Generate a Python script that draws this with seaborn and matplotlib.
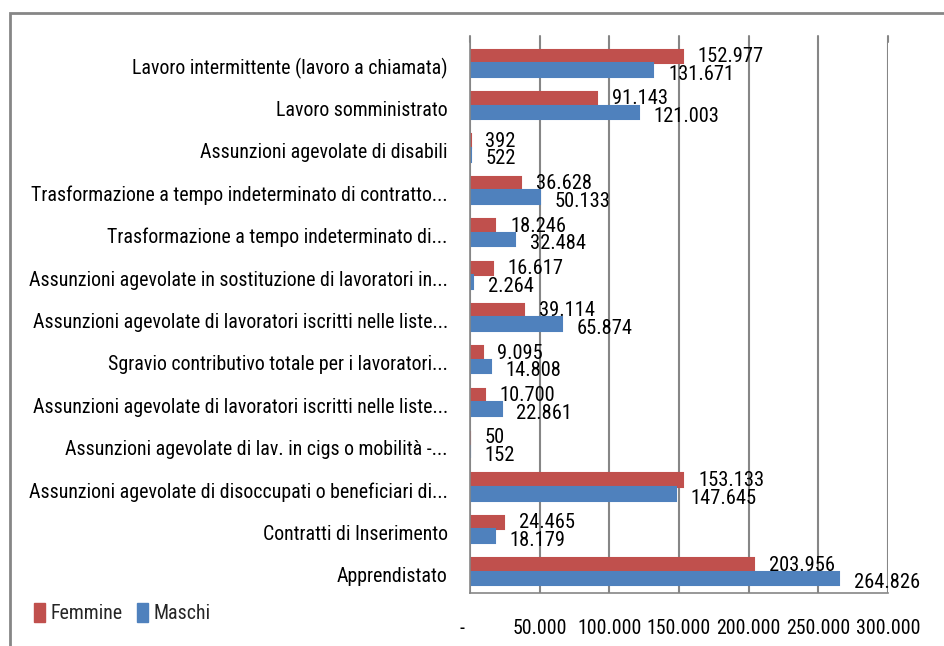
import matplotlib
matplotlib.use("Agg")
import matplotlib.pyplot as plt
from matplotlib import font_manager
from matplotlib.patches import Rectangle
from matplotlib.lines import Line2D
from matplotlib.transforms import ScaledTranslation, blended_transform_factory
import seaborn as sns
import pandas as pd

categories = [
    "Lavoro intermittente (lavoro a chiamata)",
    "Lavoro somministrato",
    "Assunzioni agevolate di disabili",
    "Trasformazione a tempo indeterminato di contratto...",
    "Trasformazione a tempo indeterminato di...",
    "Assunzioni agevolate in sostituzione di lavoratori in...",
    "Assunzioni agevolate di lavoratori iscritti nelle liste...",
    "Sgravio contributivo totale per i lavoratori...",
    "Assunzioni agevolate di lavoratori iscritti nelle liste...",
    "Assunzioni agevolate di lav. in cigs o mobilità -...",
    "Assunzioni agevolate di disoccupati o beneficiari di...",
    "Contratti di Inserimento",
    "Apprendistato",
]
femmine = [152977, 91143, 392, 36628, 18246, 16617, 39114, 9095, 10700, 50, 153133, 24465, 203956]
maschi = [131671, 121003, 522, 50133, 32484, 2264, 65874, 14808, 22861, 152, 147645, 18179, 264826]
series = ["Femmine", "Maschi"]
xticks = [0, 50000, 100000, 150000, 200000, 250000, 300000]
xticklabels = ["-", "50.000", "100.000", "150.000", "200.000", "250.000", "300.000"]

sns.set_style("white")
names = {f.name for f in font_manager.fontManager.ttflist}
prefs = ["Roboto Condensed", "Open Sans Condensed", "PT Sans Narrow",
         "Liberation Sans Narrow", "Archivo Narrow"]
chain = [n for n in prefs if n in names][:1] + ["DejaVu Sans"]
plt.rcParams["font.family"] = chain
FS_CAT = 14.3
FS_VAL = 14.8
FS_TICK = 14.3
FS_LEG = 14.3

keys = [f"c{i}" for i in range(len(categories))]
df = pd.DataFrame({
    "key": keys * 2,
    "value": femmine + maschi,
    "serie": [series[0]] * len(keys) + [series[1]] * len(keys),
})

W, H = 945, 646
fig = plt.figure(figsize=(W / 100, H / 100), dpi=100)
ax = fig.add_axes([470 / W, 1 - 593 / H, (888 - 470) / W, (593 - 42) / H])

colors = {"Femmine": "#C0504D", "Maschi": "#4F81BD"}
sns.barplot(data=df, y="key", x="value", hue="serie", order=keys, hue_order=series,
            palette=colors, orient="h", width=0.64, saturation=1, ax=ax,
            legend=False)
for cont, s in zip(ax.containers, series):
    for p in cont.patches:
        p.set_edgecolor(colors[s])
        p.set_linewidth(1.5)

ax.set_xlim(0, 300000)
ax.set_xticks(xticks)
ax.set_xticklabels(xticklabels, fontsize=FS_TICK, color="black")
ax.tick_params(axis="x", length=0, pad=19)
ax.set_yticks(range(len(categories)))
ax.set_yticklabels(categories, fontsize=FS_CAT, color="black")
ax.tick_params(axis="y", length=0, pad=16)
for lab in ax.get_yticklabels():
    lab.set_transform(lab.get_transform() + ScaledTranslation(0, -3 / 100, fig.dpi_scale_trans))
for lab in ax.get_xticklabels()[:1]:
    lab.set_transform(lab.get_transform() + ScaledTranslation(-8 / 100, 0, fig.dpi_scale_trans))
ax.set_yticks([i - 0.5 for i in range(len(categories) + 1)], minor=True)
ax.tick_params(axis="y", which="minor", length=5, color="#868686", width=1)
ax.set_xlabel("")
ax.set_ylabel("")
ax.grid(axis="x", color="#868686", linewidth=1.5)
ax.set_axisbelow(True)
for s in ["top", "right"]:
    ax.spines[s].set_visible(False)
for s in ["left", "bottom"]:
    ax.spines[s].set_color("#868686")
    ax.spines[s].set_linewidth(1.2)

# gridlines reach slightly above the plot (back wall); add_artist keeps limits untouched
bt = blended_transform_factory(ax.transData, ax.transAxes)
for xv in xticks:
    ax.add_artist(Line2D([xv, xv], [1, 1 + 6 / 551], transform=bt, color="#868686",
                         lw=1.5, clip_on=False, zorder=0.5))

# data labels
for ci, cont in enumerate(ax.containers):
    dy = -4 if ci == 0 else -7
    for p in cont.patches:
        w = p.get_width()
        yc = p.get_y() + p.get_height() / 2
        txt = f"{int(round(w)):,}".replace(",", ".")
        ax.annotate(txt, (w, yc), xytext=(10.5, dy), textcoords="offset points",
                    ha="left", va="baseline", fontsize=FS_VAL, color="black")

# legend
handles = [Rectangle((0, 0), 1, 1, color=colors[s]) for s in series]
fig.legend(handles, series, loc="center left", bbox_to_anchor=(20 / W, 1 - 613 / H),
           ncol=2, frameon=False, fontsize=FS_LEG, handlelength=0.55, handleheight=1.1,
           handletextpad=0.3, columnspacing=0.7, borderpad=0.2)

# outer chart border (partially visible)
fig.patches.append(Rectangle((10 / W, -0.1), 1.2, 1 - 13 / H + 0.1, transform=fig.transFigure,
                             fill=False, edgecolor="#868686", linewidth=2))

fig.savefig("out.png", dpi=100)
